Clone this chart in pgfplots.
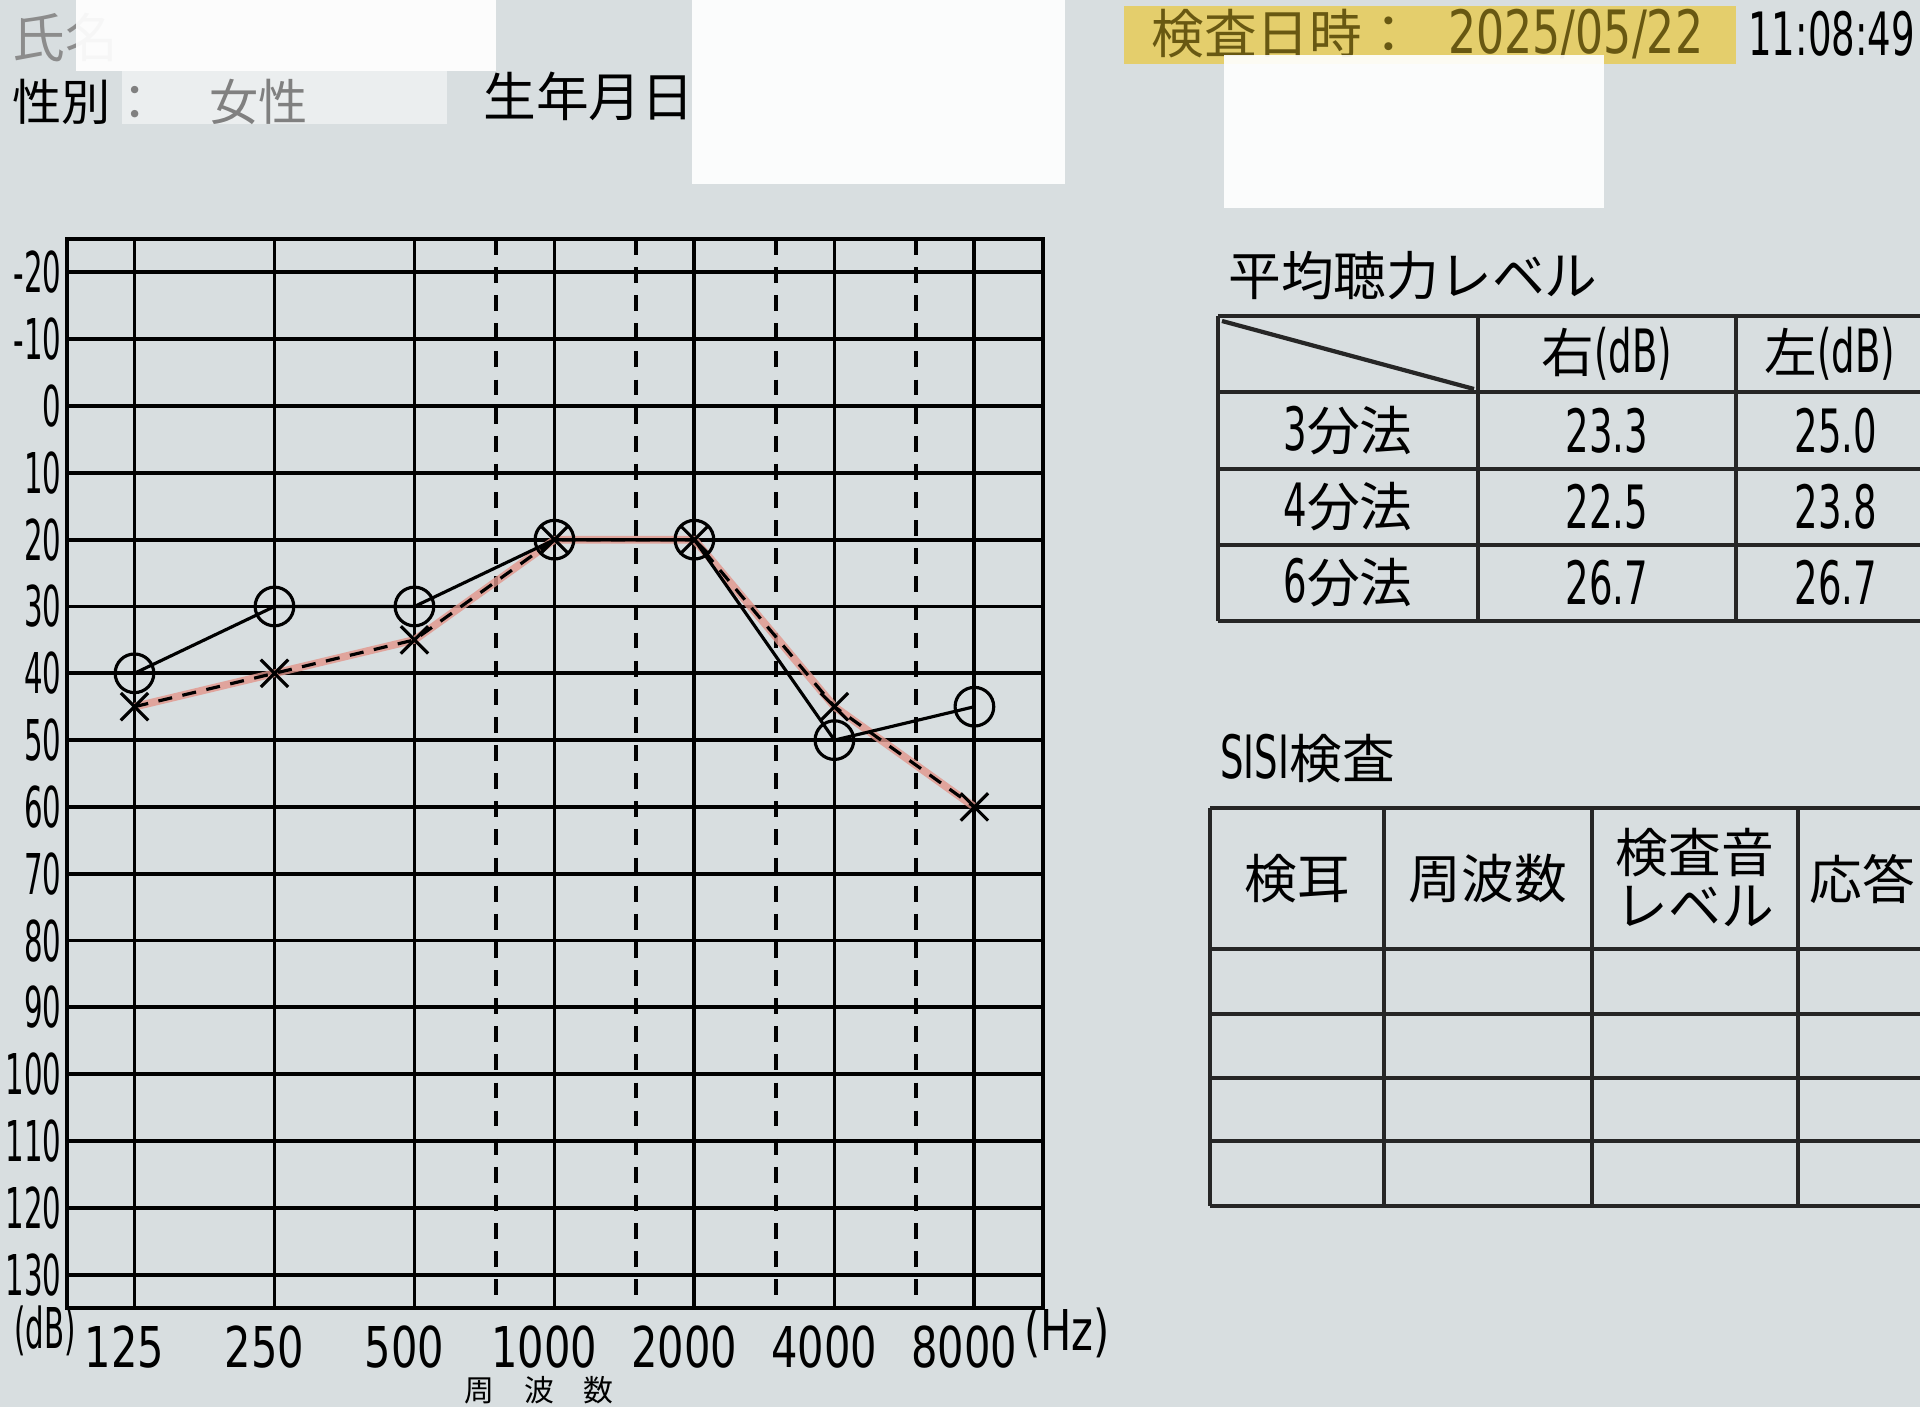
\documentclass[border=0pt]{standalone}
\usepackage{fontspec}
\usepackage{pgfplots}
\pgfplotsset{compat=1.18}
\setmainfont{Noto Sans CJK JP}
\newfontfamily\nf[FakeStretch=0.62]{DejaVu Sans}
\newfontfamily\nfy[FakeStretch=0.52]{DejaVu Sans}
\newfontfamily\nfx[FakeStretch=0.74]{DejaVu Sans}
\definecolor{paper}{RGB}{216,222,224}
\definecolor{hl}{RGB}{228,206,108}
\definecolor{olive}{RGB}{104,88,18}
\definecolor{pinkline}{RGB}{226,150,140}
\begin{document}
\begin{tikzpicture}[x=0.1mm,y=0.1mm]
\path[use as bounding box] (0,0) rectangle (1920,1407);
\clip (0,0) rectangle (1920,1407);
\fill[paper] (0,0) rectangle (1920,1407);
% header
\node[anchor=west,text=black!45,font=\fontsize{15}{18}\selectfont] at (0,1370) {氏名};
\node[anchor=west,font=\fontsize{14}{17}\selectfont] at (0,1305) {性別：　女性};
\fill[white,opacity=0.93] (76,1407) rectangle (496,1336);
\fill[white,opacity=0.5] (122,1336) rectangle (447,1283);
\node[anchor=west,font=\fontsize{15}{18}\selectfont] at (471,1311) {生年月日};
\fill[hl] (1124,1401) rectangle (1736,1343);
\node[anchor=west,text=olive,font=\fontsize{15}{18}\selectfont] at (1139,1373) {検査日時：};
\node[anchor=west,text=olive,font=\nfx\fontsize{17}{20}\selectfont] at (1436,1373) {2025/05/22};
\node[anchor=west,font=\nf\fontsize{17}{20}\selectfont] at (1736,1373) {11:08:49};
\fill[white,opacity=0.92] (692,1407) rectangle (1065,1223);
\fill[white,opacity=0.92] (1224,1352) rectangle (1604,1199);
% average hearing level table
\node[anchor=west,font=\fontsize{15}{18}\selectfont] at (1216,1131) {平均聴力レベル};
\begin{scope}[line width=1.2pt,black!85]
\foreach \yy in {1091,1015,938,862,786} {\draw (1218,\yy) -- (1920,\yy);}
\foreach \xx in {1218,1478,1736} {\draw (\xx,786) -- (\xx,1091);}
\draw (1222,1086) -- (1474,1018);
\end{scope}
\node[font=\fontsize{15}{18}\selectfont] at (1607,1053) {右{\nf\fontsize{17}{20}\selectfont(dB)}};
\node[font=\fontsize{15}{18}\selectfont] at (1830,1053) {左{\nf\fontsize{17}{20}\selectfont(dB)}};
\node[font=\fontsize{15}{18}\selectfont] at (1348,976) {{\nf\fontsize{17}{20}\selectfont 3}分法};
\node[font=\fontsize{15}{18}\selectfont] at (1348,900) {{\nf\fontsize{17}{20}\selectfont 4}分法};
\node[font=\fontsize{15}{18}\selectfont] at (1348,824) {{\nf\fontsize{17}{20}\selectfont 6}分法};
\node[font=\nf\fontsize{17}{20}\selectfont] at (1607,976) {23.3};
\node[font=\nf\fontsize{17}{20}\selectfont] at (1836,976) {25.0};
\node[font=\nf\fontsize{17}{20}\selectfont] at (1607,900) {22.5};
\node[font=\nf\fontsize{17}{20}\selectfont] at (1836,900) {23.8};
\node[font=\nf\fontsize{17}{20}\selectfont] at (1607,824) {26.7};
\node[font=\nf\fontsize{17}{20}\selectfont] at (1836,824) {26.7};
% SISI table
\node[anchor=west,font=\fontsize{15}{18}\selectfont] at (1208,648) {{\nf\fontsize{17}{20}\selectfont SISI}検査};
\begin{scope}[line width=1.2pt,black!85]
\foreach \yy in {599,458,393,329,266,201} {\draw (1210,\yy) -- (1920,\yy);}
\foreach \xx in {1210,1384,1592,1798} {\draw (\xx,201) -- (\xx,599);}
\end{scope}
\node[font=\fontsize{15}{18}\selectfont] at (1297,528) {検耳};
\node[font=\fontsize{15}{18}\selectfont] at (1488,528) {周波数};
\node[font=\fontsize{15}{18}\selectfont] at (1695,554) {検査音};
\node[font=\fontsize{15}{18}\selectfont] at (1695,501) {レベル};
\node[font=\fontsize{15}{18}\selectfont] at (1862,528) {応答};
% audiogram
\begin{axis}[
  at={(6.7mm,9.9mm)}, anchor=south west,
  width=97.6mm, height=106.9mm, scale only axis,
  xmode=log, log basis x=2,
  xmin=89.5, xmax=11235,
  y dir=reverse, ymin=-25, ymax=135,
  xtick={125,250,500,1000,2000,4000,8000},
  xticklabels={125,250,500,1000,2000,4000,8000},
  minor x tick num=0, minor y tick num=0,
  ytick={-20,-10,...,130},
  yticklabels={-20,-10,0,10,20,30,40,50,60,70,80,90,100,110,120,130},
  extra x ticks={750,1500,3000,6000},
  extra x tick labels={},
  extra x tick style={grid style={black, line width=1pt, dash pattern=on 4.5pt off 3.5pt}},
  extra y ticks={0}, extra y tick labels={},
  extra y tick style={grid style={black, line width=2.2pt}},
  grid=major,
  major grid style={black, line width=1.1pt},
  axis line style={black, line width=1.3pt},
  major tick length=0pt, minor tick length=0pt,
  xticklabel style={font=\nfx\fontsize{16}{16}\selectfont, anchor=north, yshift=-0.5mm, xshift=-1mm},
  yticklabel style={font=\nfy\fontsize{16}{16}\selectfont, anchor=east, inner sep=0pt, xshift=-0.5mm},
]
\addplot[pinkline, line width=2.2pt, opacity=0.8] coordinates {(125,45) (250,40) (500,35) (1000,20) (2000,20) (4000,45) (8000,60)};
\addplot[black, line width=0.9pt, dash pattern=on 4pt off 3pt, mark=x, mark size=5.5pt, mark options={solid, line width=0.9pt}] coordinates {(125,45) (250,40) (500,35) (1000,20) (2000,20) (4000,45) (8000,60)};
\addplot[black, line width=0.9pt, mark=o, mark size=5.5pt, mark options={solid, line width=0.9pt}] coordinates {(125,40) (250,30) (500,30) (1000,20) (2000,20) (4000,50) (8000,45)};
\end{axis}
\node[anchor=west,font=\nfx\fontsize{16}{16}\selectfont] at (1012,74) {(Hz)};
\node[anchor=west,font=\nfy\fontsize{16}{16}\selectfont] at (2,76) {(dB)};
\node[anchor=south,inner sep=0pt,font=\fontsize{8.5}{9}\selectfont] at (539,2) {周　波　数};
\end{tikzpicture}
\end{document}
